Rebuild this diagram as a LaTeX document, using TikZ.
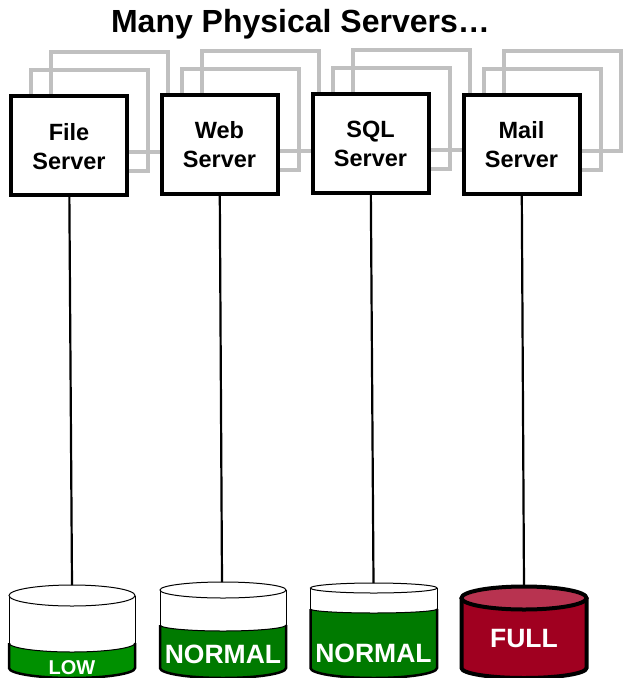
\documentclass[tikz,border=0pt]{standalone}
\usepackage{fontspec}
\setmainfont{Liberation Sans}
\definecolor{ghost}{HTML}{C0C0C0}
\definecolor{lowgreen}{HTML}{009000}
\definecolor{normgreen}{HTML}{007A00}
\definecolor{fullred}{HTML}{A00020}
\definecolor{fulltop}{HTML}{B83350}
\newcommand{\liftline}{\rule{0pt}{19pt}}
\tikzset{
  ghostbox/.style={draw=ghost,line width=4pt,fill=none},
  serverbox/.style={draw=black,line width=4pt,fill=white,inner sep=0pt,
    minimum width=116pt,minimum height=99pt,align=center,
    font=\fontsize{23.5}{29}\selectfont\bfseries},
  wire/.style={draw=black,line width=2.2pt},
  drumlabel/.style={text=white,inner sep=0pt,font=\bfseries},
  drumline/.style={draw=black,line width=1pt},
  drumheavy/.style={draw=black,line width=2.5pt},
}
% #1 x-left, #2 x-right, #3 top-ellipse centre y, #4 top ry, #5 liquid y at sides, #6 liquid sag, #7 colour
\newcommand{\drumpart}[7]{%
  \pgfmathsetmacro{\rxx}{(#2-#1)/2}
  \pgfmathsetmacro{\cxx}{(#2+#1)/2}
  \fill[white] (#1,#3) -- (#1,668) arc[start angle=180,end angle=360,x radius=\rxx pt,y radius=10pt] -- (#2,#3) -- cycle;
  \fill[#7] (#1,#5) arc[start angle=180,end angle=360,x radius=\rxx pt,y radius=#6 pt] -- (#2,668)
     arc[start angle=360,end angle=180,x radius=\rxx pt,y radius=10pt] -- cycle;
  \draw[drumline] (#1,#3) -- (#1,#5) (#2,#3) -- (#2,#5);
  \draw[drumline] (#1,#5) arc[start angle=180,end angle=360,x radius=\rxx pt,y radius=#6 pt];
  \draw[drumheavy] (#1,#5) -- (#1,668) arc[start angle=180,end angle=360,x radius=\rxx pt,y radius=10pt] -- (#2,#5);
  \draw[drumline,fill=white] (\cxx,#3) ellipse[x radius=\rxx pt,y radius=#4 pt];
}
\begin{document}
\begin{tikzpicture}[x=1pt,y=-1pt]
\useasboundingbox (0,0) rectangle (622,678);
\fill[white] (0,0) rectangle (622,678);

\node[inner sep=0pt,font=\fontsize{32}{38}\selectfont\bfseries] (title) at (300.5,24.5) {Many Physical Servers…};

% ghost servers
\foreach \x/\y in {11/96,162/95,313/94,464/95}{
  \draw[ghostbox] (\x+40,\y-44.5) rectangle (\x+156.5,\y+56);
  \draw[ghostbox] (\x+20,\y-26.5) rectangle (\x+136.5,\y+74.5);
}

% front servers
\node[serverbox] (file) at (69,145.5) {\liftline File\\Server};
\node[serverbox] (web)  at (219.5,144) {\liftline Web\\Server};
\node[serverbox] (sql)  at (370.5,143) {\liftline SQL\\Server};
\node[serverbox] (mail) at (521.5,144) {\liftline Mail\\Server};

% drums
\drumpart{9}{135}{595.5}{10.5}{643}{9}{lowgreen}
\drumpart{160}{286}{590}{8}{625}{6}{normgreen}
\drumpart{310.5}{437}{588}{5}{609}{4}{normgreen}

% full drum
\fill[fullred] (461.5,598) -- (461.5,668) arc[start angle=180,end angle=360,x radius=62.5pt,y radius=10pt] -- (586.5,598) -- cycle;
\draw[black,line width=4pt] (461.5,598) -- (461.5,668) arc[start angle=180,end angle=360,x radius=62.5pt,y radius=10pt] -- (586.5,598);
\draw[black,line width=4pt,fill=fulltop] (524,598) ellipse[x radius=62.5pt,y radius=11.5pt];

\coordinate (d1) at (72,585);
\coordinate (d2) at (222,582);
\coordinate (d3) at (373.5,583);
\coordinate (d4) at (524,586);

\draw[wire] (file) -- (d1);
\draw[wire] (web) -- (d2);
\draw[wire] (sql) -- (d3);
\draw[wire] (mail) -- (d4);

\node[drumlabel,font=\fontsize{20}{24}\selectfont\bfseries] (l1) at (72,667.5) {LOW};
\node[drumlabel,font=\fontsize{26.5}{32}\selectfont\bfseries] (l2) at (223,654.5) {NORMAL};
\node[drumlabel,font=\fontsize{26.5}{32}\selectfont\bfseries] (l3) at (373.5,653.5) {NORMAL};
\node[drumlabel,font=\fontsize{26.5}{32}\selectfont\bfseries] (l4) at (524,638.5) {FULL};
\end{tikzpicture}
\end{document}
